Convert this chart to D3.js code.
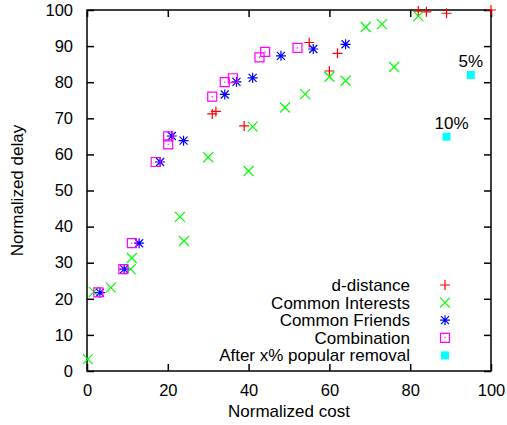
<!DOCTYPE html>
<html>
<head>
<meta charset="utf-8">
<script src="https://cdn.jsdelivr.net/npm/d3@7"></script>
<style>
  body { margin: 0; background: #fff; }
  text { font-family: "Liberation Sans", Arial, sans-serif; fill: #000; }
</style>
</head>
<body>
<div id="chart"></div>
<script>
// series as [cost, delay]
const dDistance = [[31.0, 71.2], [31.9, 71.9], [38.9, 67.9], [55, 91], [60, 83.1], [62, 88],
  [82, 99.7], [84, 99.5], [89, 99.1], [100, 100]];
const commonInterests = [[0.2, 3.3], [1.7, 21.9], [5.9, 23.1], [10.8, 28.2], [11.1, 31.3],
  [23, 42.7], [24, 36], [30, 59.2], [40, 55.4], [41, 67.7], [49, 73], [54, 76.7], [60, 81.5],
  [64, 80.4], [69, 95.3], [73, 96.1], [76, 84.2], [82, 98.3]];
const commonFriends = [[3.2, 21.7], [9.2, 28.2], [12.9, 35.4], [18.1, 57.9], [21, 65.1],
  [23.9, 63.8], [34.1, 76.6], [37, 80.1], [41, 81.2], [48, 87.3], [56, 89.2], [64, 90.5]];
const combination = [[2.8, 21.8], [9.0, 28.2], [11.1, 35.4], [17, 57.9], [20.1, 65], [20.1, 62.8],
  [31, 76], [34.1, 80], [36.1, 81.1], [42.7, 86.9], [44.1, 88.4], [52.1, 89.5]];
const popularRemoval = [[95, 82, "5%"], [89, 64.9, "10%"]];

const xTicks = [0, 20, 40, 60, 80, 100];
const yTicks = [0, 10, 20, 30, 40, 50, 60, 70, 80, 90, 100];
const legendNames = ["d-distance", "Common Interests", "Common Friends", "Combination", "After x% popular removal"];

const width = 507, height = 425;
const margin = {left: 87, right: 16, top: 10, bottom: 54};
const fontSize = "17px";
const pctLabelDx = [0, 5];

const svg = d3.select("#chart").append("svg")
  .attr("width", width)
  .attr("height", height);

const x = d3.scaleLinear().domain([0, 100]).range([margin.left, width - margin.right]);
const y = d3.scaleLinear().domain([0, 100]).range([height - margin.bottom, margin.top]);

// point shapes
const shapes = {
  plus: "M-5,0H5M0,-5V5",
  cross: "M-5,-5L5,5M-5,5L5,-5",
  star: "M-5,0H5M0,-5V5M-4,-4L4,4M-4,4L4,-4",
  box: "M-4.5,-4.5H4.5V4.5H-4.5Z",
  fill: "M-4,-4H4V4H-4Z"
};

const series = [
  {data: dDistance, shape: "plus", color: "#ff0000"},
  {data: commonInterests, shape: "cross", color: "#00ff00"},
  {data: commonFriends, shape: "star", color: "#0000ff"},
  {data: combination, shape: "box", color: "#ff00ff"},
  {data: popularRemoval, shape: "fill", color: "#00ffff"}
];

// axes with inward ticks, mirrored
const axes = svg.append("g").attr("class", "axes");
axes.append("g")
  .attr("transform", `translate(0,${y(0)})`)
  .call(d3.axisBottom(x).tickValues(xTicks).tickSize(-7).tickPadding(13));
axes.append("g")
  .attr("transform", `translate(0,${y(100)})`)
  .call(d3.axisTop(x).tickValues(xTicks).tickSize(-7).tickFormat(""));
axes.append("g")
  .attr("transform", `translate(${x(0)},0)`)
  .call(d3.axisLeft(y).tickValues(yTicks).tickSize(-7).tickPadding(14));
axes.append("g")
  .attr("transform", `translate(${x(100)},0)`)
  .call(d3.axisRight(y).tickValues(yTicks).tickSize(-7).tickFormat(""));

axes.selectAll(".domain").remove();
axes.selectAll(".tick line").attr("stroke", "#000").attr("stroke-width", 1.5);
axes.selectAll(".tick text").style("font-size", "16.5px").attr("fill", "#000");

svg.append("rect")
  .attr("x", x(0)).attr("y", y(100))
  .attr("width", x(100) - x(0)).attr("height", y(0) - y(100))
  .attr("fill", "none").attr("stroke", "#000").attr("stroke-width", 1.5);

// axis titles
svg.append("text")
  .attr("x", (x(0) + x(100)) / 2).attr("y", 417)
  .attr("text-anchor", "middle").style("font-size", fontSize)
  .text("Normalized cost");
svg.append("text")
  .attr("transform", `translate(23,${(y(0) + y(100)) / 2}) rotate(-90)`)
  .attr("text-anchor", "middle").style("font-size", fontSize)
  .text("Normalized delay");

// legend
const legend = svg.append("g");
legendNames.forEach((name, i) => {
  const ly = 285 + i * 17.6;
  legend.append("text")
    .attr("x", 410).attr("y", ly).attr("dy", "0.35em")
    .attr("text-anchor", "end").style("font-size", fontSize)
    .text(name);
  drawSymbol(legend, series[i], 445, ly);
});

function drawSymbol(g, s, px, py) {
  const p = g.append("path")
    .attr("transform", `translate(${px},${py})`)
    .attr("d", shapes[s.shape]);
  if (s.shape === "fill") {
    p.attr("fill", s.color).attr("stroke", "none");
  } else {
    p.attr("fill", "none").attr("stroke", s.color).attr("stroke-width", 1.2);
    if (s.shape === "box") {
      g.append("rect")
        .attr("x", px - 0.6).attr("y", py - 0.6)
        .attr("width", 1.2).attr("height", 1.2)
        .attr("fill", s.color);
    }
  }
}

// points
const plot = svg.append("g");
series.forEach(s => {
  s.data.forEach(d => drawSymbol(plot, s, x(d[0]), y(d[1])));
});

// labels for removal points
plot.selectAll("text.pct")
  .data(popularRemoval)
  .enter()
  .append("text")
  .attr("class", "pct")
  .attr("x", (d, i) => x(d[0]) + pctLabelDx[i])
  .attr("y", d => y(d[1]) - 8)
  .attr("text-anchor", "middle")
  .style("font-size", fontSize)
  .text(d => d[2]);
</script>
</body>
</html>
